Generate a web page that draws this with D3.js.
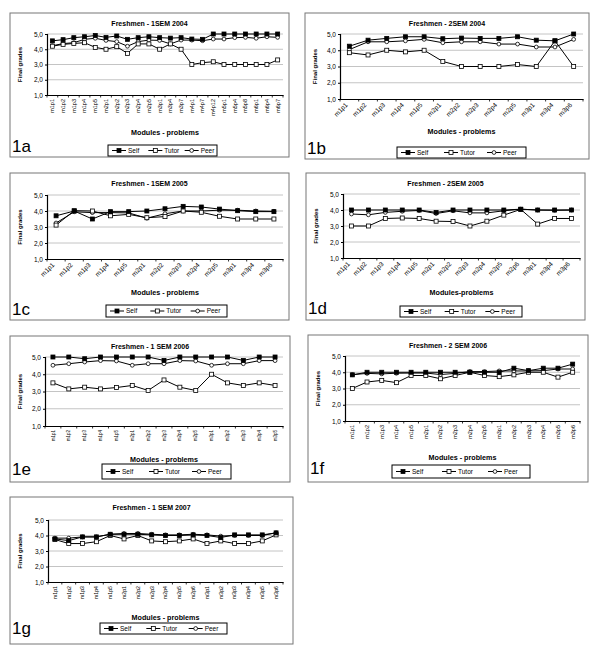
<!DOCTYPE html>
<html lang="en">
<head>
<meta charset="utf-8">
<title>Freshmen final grades</title>
<script src="https://cdn.jsdelivr.net/npm/d3@7"></script>
<style>
  body { margin: 0; background: #fff; }
  text { font-family: "Liberation Sans", Arial, sans-serif; fill: #000; }
</style>
</head>
<body>
<div id="chart"></div>
<script>
// ---- data ----
var series = ["Self", "Tutor", "Peer"];

var cats1a = ["m1p1","m1p2","m1p3","m1p4","m1p5","m2p1","m2p2","m2p3","m2p4","m2p5","m3p1","m3p4","m3p7","m4p1","m4p7","m4p12","m5p1","m5p4","m5p8","m6p1","m6p4","m6p7"];
var self1a  = [4.55,4.63,4.76,4.82,4.9,4.78,4.87,4.65,4.76,4.82,4.76,4.73,4.76,4.67,4.65,5.0,5.0,5.0,5.0,5.0,5.0,5.0];
var tutor1a = [4.2,4.32,4.38,4.43,4.12,4.0,4.17,3.73,4.35,4.35,4.0,4.35,4.0,3.0,3.12,3.18,3.0,3.0,3.0,3.0,3.0,3.3];
var peer1a  = [4.23,4.37,4.43,4.65,4.72,4.58,4.5,4.2,4.5,4.6,4.58,4.35,4.6,4.6,4.56,4.67,4.67,4.76,4.78,4.72,4.82,4.78];

var cats1b = ["m1p1","m1p2","m1p3","m1p4","m1p5","m2p1","m2p2","m2p3","m2p4","m2p5","m3p1","m3p4","m3p6"];
var self1b  = [4.25,4.62,4.73,4.83,4.83,4.71,4.75,4.73,4.73,4.83,4.62,4.58,5.0];
var tutor1b = [3.85,3.71,4.0,3.9,4.0,3.31,3.0,3.0,3.0,3.12,3.0,4.58,3.0];
var peer1b  = [4.04,4.52,4.52,4.58,4.67,4.46,4.52,4.52,4.38,4.38,4.2,4.2,4.67];

var cats1c = ["m1p1","m1p2","m1p3","m1p4","m1p5","m2p1","m2p2","m2p3","m2p4","m2p5","m3p1","m3p4","m3p6"];
var self1c  = [3.7,4.0,3.5,3.96,3.96,4.0,4.14,4.29,4.25,4.12,4.02,3.96,3.96];
var tutor1c = [3.12,4.02,4.0,3.7,3.79,3.58,3.65,4.0,3.92,3.67,3.5,3.5,3.5];
var peer1c  = [3.25,3.95,3.9,3.9,3.88,3.55,3.83,4.0,4.0,4.05,4.05,4.0,3.98];

var cats1d = ["m1p1","m1p2","m1p3","m1p4","m1p5","m2p1","m2p2","m2p3","m2p4","m2p5","m2p6","m3p1","m3p4","m3p6"];
var self1d  = [4.0,4.0,4.0,4.0,4.0,3.85,4.0,4.0,4.0,4.0,4.05,4.0,4.0,4.0];
var tutor1d = [3.0,3.0,3.47,3.5,3.47,3.3,3.28,3.0,3.3,3.68,4.04,3.12,3.47,3.47];
var peer1d  = [3.75,3.7,3.85,3.92,3.97,3.78,3.95,3.82,3.82,3.95,4.05,4.0,3.98,4.0];

var cats1e = ["m1p1","m1p2","m1p3","m1p4","m1p5","m2p1","m2p2","m2p3","m2p4","m2p5","m3p1","m3p2","m3p3","m3p4","m3p5"];
var self1e  = [5.0,5.0,4.9,5.0,5.0,5.0,5.0,4.8,5.0,5.0,5.0,5.0,4.8,5.0,5.0];
var tutor1e = [3.5,3.15,3.25,3.15,3.23,3.35,3.06,3.67,3.25,3.06,4.0,3.5,3.35,3.5,3.35];
var peer1e  = [4.52,4.61,4.71,4.79,4.77,4.52,4.61,4.61,4.79,4.77,4.52,4.61,4.61,4.79,4.79];

var cats1f = ["m1p1","m1p2","m1p3","m1p4","m1p5","m2p1","m2p2","m2p3","m2p4","m2p5","m3p1","m3p2","m3p3","m3p4","m3p5","m3p6"];
var self1f  = [3.84,4.0,4.0,4.0,4.0,4.0,4.0,4.0,4.0,4.0,4.0,4.25,4.1,4.25,4.25,4.5];
var tutor1f = [3.0,3.4,3.5,3.36,3.8,3.8,3.6,3.8,4.0,3.8,3.73,3.84,4.0,4.0,3.7,4.0];
var peer1f  = [3.85,3.93,3.9,3.94,3.95,3.95,3.86,3.93,4.04,4.04,4.08,4.08,4.08,4.1,4.2,4.2];

var cats1g = ["m1p1","m1p2","m1p3","m1p4","m1p5","m2p1","m2p2","m2p3","m2p4","m2p5","m2p6","m3p1","m3p2","m3p3","m3p4","m3p5","m3p6"];
var self1g  = [3.78,3.67,3.91,3.91,4.08,4.08,4.08,4.04,4.0,4.0,4.04,4.0,3.87,4.04,4.04,4.04,4.17];
var tutor1g = [3.74,3.48,3.48,3.6,4.0,3.78,4.0,3.65,3.6,3.65,3.78,3.48,3.65,3.48,3.48,3.65,4.04];
var peer1g  = [3.83,3.83,3.91,3.91,4.08,4.13,4.13,4.08,4.04,4.04,4.08,4.04,3.96,4.0,4.0,4.0,4.17];

var yTicks = [1, 2, 3, 4, 5];

// ---- panel layout ----
// box: [x, y, w, h]   plot: [left, top, right, bottom]   legend: [x, y, w, h]
var panels = [
  {tag:"1a", title:"Freshmen - 1SEM 2004", xt:"Modules - problems", cats:cats1a, vals:[self1a,tutor1a,peer1a],
   box:[10,13,279,144], plot:[47,34,283,95], rot:90, tickFs:5.5, xtY:135, legend:[108,145,109,11], tagPos:[12,152]},
  {tag:"1b", title:"Freshmen - 2SEM 2004", xt:"Modules - problems", cats:cats1b, vals:[self1b,tutor1b,peer1b],
   box:[305,13,284,146], plot:[340,34,583,99], rot:45, tickFs:6.5, xtY:134, legend:[397,147,129,11], tagPos:[307,154]},
  {tag:"1c", title:"Freshmen - 1SEM 2005", xt:"Modules - problems", cats:cats1c, vals:[self1c,tutor1c,peer1c],
   box:[10,173,279,147], plot:[47,195,283,259], rot:45, tickFs:6.5, xtY:295, legend:[106,305,121,12], tagPos:[12,315]},
  {tag:"1d", title:"Freshmen - 2SEM 2005", xt:"Modules-problems", cats:cats1d, vals:[self1d,tutor1d,peer1d],
   box:[306,173,279,147], plot:[343,194,580,258], rot:45, tickFs:6.5, xtY:295, legend:[400,306,122,11], tagPos:[308,314]},
  {tag:"1e", title:"Freshmen - 1 SEM 2006", xt:"Modules - problems", cats:cats1e, vals:[self1e,tutor1e,peer1e],
   box:[10,336,280,146], plot:[45,357,283,426], rot:90, tickFs:4.5, xtY:462, legend:[102,464,129,15], tagPos:[12,475]},
  {tag:"1f", title:"Freshmen - 2 SEM 2006", xt:"Modules - problems", cats:cats1f, vals:[self1f,tutor1f,peer1f],
   box:[308,335,280,147], plot:[345,356,580,421], rot:90, tickFs:5.5, xtY:460, legend:[392,465,138,13], tagPos:[310,474]},
  {tag:"1g", title:"Freshmen - 1 SEM 2007", xt:"Modules - problems", cats:cats1g, vals:[self1g,tutor1g,peer1g],
   box:[10,497,283,147], plot:[48,520,283,582], rot:90, tickFs:5.2, xtY:620, legend:[100,623,127,11], tagPos:[12,634]}
];

var svg = d3.select("#chart").append("svg")
  .attr("width", 600)
  .attr("height", 658);

var fmt = function(d) { return d3.format(".1f")(d).replace(".", ","); };

// marker drawing, by series index
function marker(sel, i, cx, cy) {
  if (i == 2) {
    sel.append("circle").attr("cx", cx).attr("cy", cy).attr("r", 1.9)
      .attr("fill", "#fff").attr("stroke", "#000").attr("stroke-width", 0.8);
  } else {
    sel.append("rect").attr("x", cx - 2).attr("y", cy - 2).attr("width", 4).attr("height", 4)
      .attr("fill", i == 0 ? "#000" : "#fff").attr("stroke", "#000").attr("stroke-width", 0.8);
  }
}

panels.forEach(function(p) {
  var g = svg.append("g");

  // outer frame
  g.append("rect")
    .attr("x", p.box[0]).attr("y", p.box[1])
    .attr("width", p.box[2]).attr("height", p.box[3])
    .attr("fill", "#fff").attr("stroke", "#777").attr("stroke-width", 1);

  var x = d3.scaleBand().domain(p.cats).range([p.plot[0], p.plot[2]]);
  var y = d3.scaleLinear().domain([1, 5]).range([p.plot[3], p.plot[1]]);

  // gridlines
  g.selectAll("line.grid").data(yTicks.slice(1)).enter().append("line")
    .attr("x1", p.plot[0]).attr("x2", p.plot[2])
    .attr("y1", function(d) { return y(d); }).attr("y2", function(d) { return y(d); })
    .attr("stroke", "#c4c4c4").attr("stroke-width", 1);

  // y axis
  var yAx = g.append("g")
    .attr("transform", "translate(" + p.plot[0] + ",0)")
    .call(d3.axisLeft(y).tickValues(yTicks).tickSize(2).tickPadding(2).tickFormat(fmt));
  yAx.select(".domain").attr("stroke-width", 1.2);
  yAx.selectAll("text").attr("font-size", 6.5).attr("font-family", "Liberation Sans, Arial");

  // x axis, Excel style ticks between the categories
  var xAx = g.append("g")
    .attr("transform", "translate(0," + p.plot[3] + ")")
    .call(d3.axisBottom(x).tickSize(0));
  xAx.select(".domain").attr("stroke-width", 1.2);
  xAx.selectAll(".tick text")
    .attr("font-size", p.tickFs)
    .attr("font-family", "Liberation Sans, Arial")
    .attr("text-anchor", "end")
    .attr("x", -4)
    .attr("y", 0)
    .attr("dy", "0.35em")
    .attr("transform", p.rot == 90 ? "rotate(-90)" : "translate(0,2) rotate(-45)");
  var bounds = p.cats.map(function(c) { return x(c); }).concat([p.plot[2]]);
  g.selectAll("line.xtick").data(bounds).enter().append("line")
    .attr("x1", function(d) { return d; }).attr("x2", function(d) { return d; })
    .attr("y1", p.plot[3]).attr("y2", p.plot[3] + 2.5)
    .attr("stroke", "#000").attr("stroke-width", 0.8);

  // lines and markers (Peer, Tutor, then Self on top)
  var line = d3.line()
    .x(function(d, k) { return x(p.cats[k]) + x.bandwidth() / 2; })
    .y(function(d) { return y(d); });

  [2, 1, 0].forEach(function(i) {
    g.append("path").datum(p.vals[i])
      .attr("d", line)
      .attr("fill", "none").attr("stroke", "#000").attr("stroke-width", 1);
    var mg = g.append("g");
    p.vals[i].forEach(function(v, k) {
      marker(mg, i, x(p.cats[k]) + x.bandwidth() / 2, y(v));
    });
  });

  // titles (chart title centred on the whole frame)
  g.append("text")
    .attr("x", p.box[0] + p.box[2] / 2).attr("y", p.box[1] + 13)
    .attr("text-anchor", "middle").attr("font-size", 7).attr("font-weight", "bold")
    .text(p.title);

  g.append("text")
    .attr("transform", "translate(" + (p.box[0] + 12) + "," + ((p.plot[1] + p.plot[3]) / 2) + ") rotate(-90)")
    .attr("text-anchor", "middle").attr("font-size", 6).attr("font-weight", "bold")
    .text("Final grades");

  g.append("text")
    .attr("x", (p.plot[0] + p.plot[2]) / 2).attr("y", p.xtY)
    .attr("text-anchor", "middle").attr("font-size", 7.2).attr("font-weight", "bold")
    .text(p.xt);

  g.append("text")
    .attr("x", p.tagPos[0]).attr("y", p.tagPos[1])
    .attr("font-size", 17)
    .text(p.tag);

  // legend
  var L = p.legend;
  g.append("rect")
    .attr("x", L[0]).attr("y", L[1]).attr("width", L[2]).attr("height", L[3])
    .attr("fill", "#fff").attr("stroke", "#000").attr("stroke-width", 1);
  var step = L[2] / 3;
  series.forEach(function(s, i) {
    var lx = L[0] + 4 + i * step;
    var ly = L[1] + L[3] / 2;
    g.append("line")
      .attr("x1", lx).attr("x2", lx + 14).attr("y1", ly).attr("y2", ly)
      .attr("stroke", "#000").attr("stroke-width", 1);
    marker(g, i, lx + 7, ly);
    g.append("text")
      .attr("x", lx + 16).attr("y", ly).attr("dy", "0.35em")
      .attr("font-size", 6.5)
      .text(s);
  });
});
</script>
</body>
</html>
